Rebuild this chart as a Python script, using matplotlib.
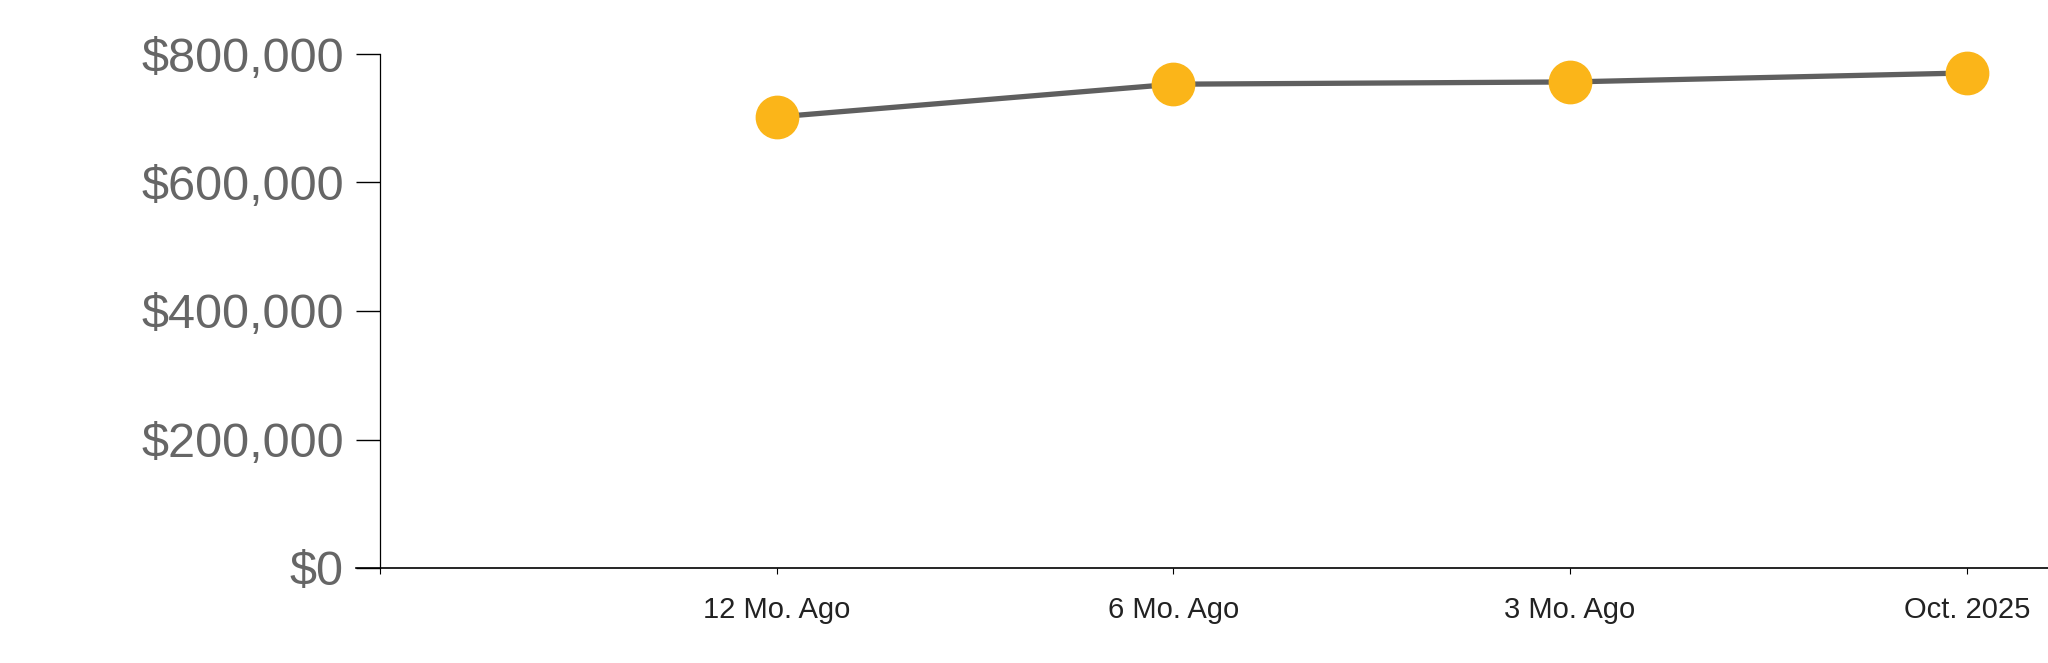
import numpy as np
import matplotlib.pyplot as plt
from matplotlib.ticker import FuncFormatter

periods = ["12 Mo. Ago", "6 Mo. Ago", "3 Mo. Ago", "Oct. 2025"]
prices = [702000, 753000, 756500, 770500]
yticks = [0, 200000, 400000, 600000, 800000]

plt.rcParams['font.family'] = ['Liberation Sans', 'DejaVu Sans']

fig = plt.figure(figsize=(20.48, 6.63), dpi=100)
ax = fig.add_axes([380 / 2048, 95 / 663, 1 - 380 / 2048, (568 - 54) / 663])

x = np.arange(1, len(periods) + 1)
ax.plot(x, prices, color='#5f5f5f', lw=3.8, zorder=2, clip_on=False)
ax.plot(x, prices, 'o', ms=30.5, color='#fbb519', mec='#fbb519', zorder=3, clip_on=False)

ax.set_xlim(0, (2048 - 380) / 396.7)
ax.set_ylim(0, 800000)

ax.set_yticks(yticks)
ax.yaxis.set_major_formatter(FuncFormatter(lambda v, p: f"${v:,.0f}"))
ax.tick_params(axis='y', length=17, width=1, pad=9, labelsize=35, labelcolor='#666666', color='black')

ax.set_xticks(np.arange(0, len(periods) + 1))
ax.set_xticklabels([""] + periods)
ax.tick_params(axis='x', length=4.5, width=0.8, pad=16, labelsize=21, labelcolor='#222222', color='black')

for s in ['top', 'right']:
    ax.spines[s].set_visible(False)
ax.spines['left'].set_linewidth(0.9)
ax.spines['bottom'].set_linewidth(1.2)
# x axis line runs a little left of the y axis, like the $0 tick
ax.spines['bottom'].set_bounds(-24 / 396.7, ax.get_xlim()[1])
ax.spines['bottom'].set_clip_on(False)

fig.savefig('out.png', dpi=100)
